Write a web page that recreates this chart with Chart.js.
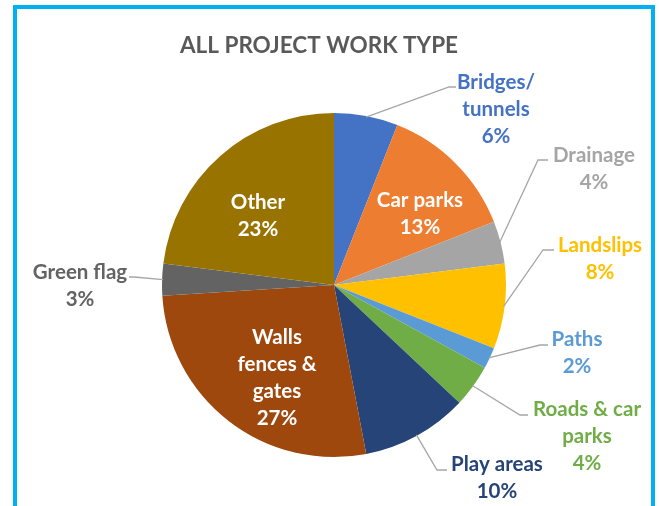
<!DOCTYPE html>
<html>
<head>
<meta charset="utf-8">
<script src="https://cdn.jsdelivr.net/npm/chart.js@4"></script>
<style>
  html, body { margin: 0; padding: 0; background: #fff; }
  #wrap { position: relative; width: 659px; height: 506px; overflow: hidden; }
  #frame { position: absolute; left: 13px; top: 5px; width: 634px; height: 540px; border: 4px solid #00B0F0; }
  canvas { position: absolute; left: 0; top: 0; }
</style>
</head>
<body>
<div id="wrap">
  <div id="frame"></div>
  <canvas id="workTypeChart" width="659" height="506"></canvas>
</div>
<script>
// Work type shares (%), clockwise from 12 o'clock
const categories = ['Bridges/ tunnels', 'Car parks', 'Drainage', 'Landslips', 'Paths',
                    'Roads & car parks', 'Play areas', 'Walls fences & gates', 'Green flag', 'Other'];
const shares = [6, 13, 4, 8, 2, 4, 10, 27, 3, 23];
// how each label wraps on the chart
const labelLines = [['Bridges/', 'tunnels'], ['Car parks'], ['Drainage'], ['Landslips'], ['Paths'],
                    ['Roads & car', 'parks'], ['Play areas'], ['Walls', 'fences &', 'gates'], ['Green flag'], ['Other']];
const sliceColours = ['#4472C4', '#ED7D31', '#A5A5A5', '#FFC000', '#5B9BD5',
                      '#70AD47', '#264478', '#9E480E', '#636363', '#997300'];
const textColours = ['#4472C4', '#fff', '#A5A5A5', '#FFC000', '#5B9BD5',
                     '#70AD47', '#264478', '#fff', '#636363', '#fff'];

// label placement: centre of first text line, plus leader elbow/end for outside labels
const labelPos = [
  { x: 496, y: 82, elbow: [449, 87], end: [456, 87] },
  { x: 420, y: 200 },
  { x: 594, y: 155, elbow: [538, 160], end: [548, 160] },
  { x: 600, y: 245, elbow: [543, 250], end: [554, 250] },
  { x: 577, y: 339, elbow: [540, 345], end: [548, 345] },
  { x: 587, y: 409, elbow: [520, 415], end: [528, 415] },
  { x: 497, y: 464, elbow: [437, 470], end: [447, 470] },
  { x: 277, y: 337 },
  { x: 80, y: 272, elbow: [134, 277], end: [129, 277] },
  { x: 258, y: 202 }
];

const FONT = 'bold 20.5px Lato';
const LINE_H = 27;

const sliceLabels = {
  id: 'sliceLabels',
  afterDatasetsDraw(chart) {
    const ctx = chart.ctx;
    const meta = chart.getDatasetMeta(0);
    ctx.save();
    ctx.textAlign = 'center';
    ctx.textBaseline = 'middle';
    ctx.font = FONT;
    meta.data.forEach((arc, i) => {
      const p = labelPos[i];
      if (p.elbow) {
        const { x, y, startAngle, endAngle, outerRadius } =
          arc.getProps(['x', 'y', 'startAngle', 'endAngle', 'outerRadius'], true);
        const mid = (startAngle + endAngle) / 2;
        ctx.strokeStyle = '#A6A6A6';
        ctx.lineWidth = 1.3;
        ctx.beginPath();
        ctx.moveTo(x + Math.cos(mid) * (outerRadius - 1), y + Math.sin(mid) * (outerRadius - 1));
        ctx.lineTo(p.elbow[0], p.elbow[1]);
        ctx.lineTo(p.end[0], p.end[1]);
        ctx.stroke();
      }
      ctx.fillStyle = textColours[i];
      const lines = labelLines[i].concat([shares[i] + '%']);
      lines.forEach((t, k) => ctx.fillText(t, p.x, p.y + k * LINE_H));
    });

    // chart title
    ctx.fillStyle = '#595959';
    ctx.font = 'bold 22.5px Lato';
    ctx.fillText('ALL PROJECT WORK TYPE', 319, 46);
    ctx.restore();
  }
};

new Chart(document.getElementById('workTypeChart').getContext('2d'), {
  type: 'pie',
  data: {
    labels: categories,
    datasets: [{
      data: shares,
      backgroundColor: sliceColours,
      borderWidth: 0
    }]
  },
  options: {
    responsive: false,
    animation: false,
    layout: { padding: { left: 162, right: 153, top: 113, bottom: 49 } },
    plugins: {
      legend: { display: false },
      tooltip: { enabled: false },
      title: { display: false }
    }
  },
  plugins: [sliceLabels]
});
</script>
</body>
</html>
